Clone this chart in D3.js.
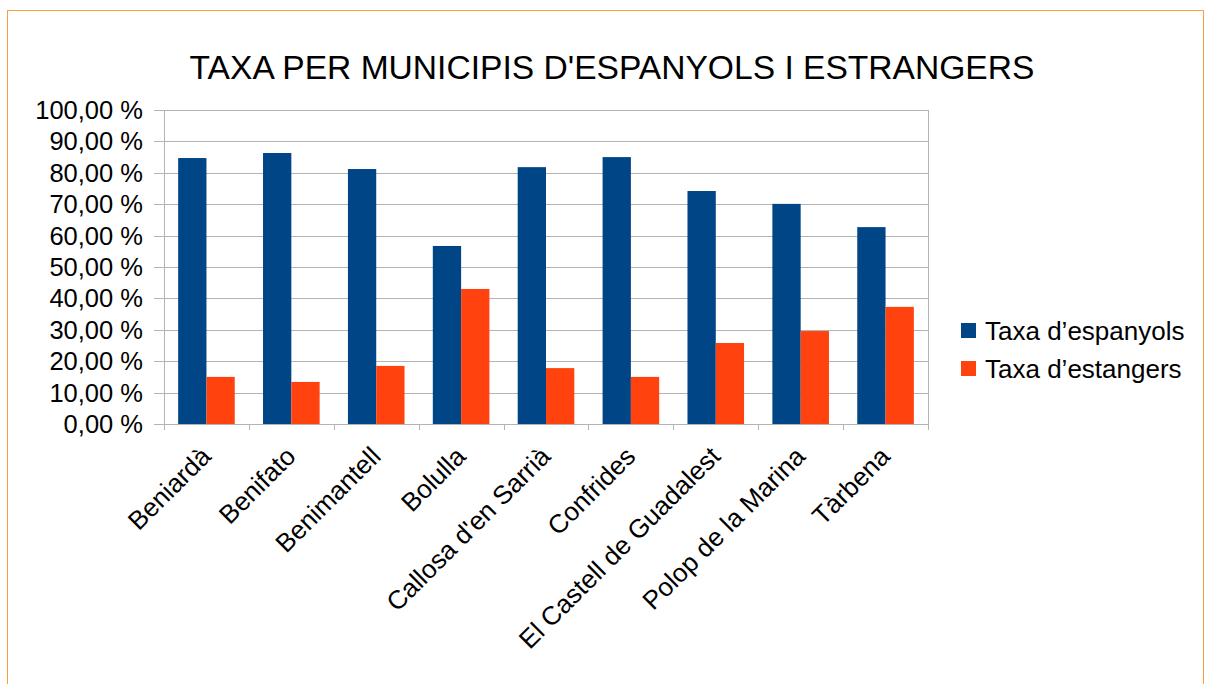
<!DOCTYPE html>
<html>
<head>
<meta charset="utf-8">
<script src="https://cdn.jsdelivr.net/npm/d3@7"></script>
<style>
  body { margin: 0; background: #fff; }
  svg text { font-family: "Liberation Sans", Arial, sans-serif; fill: #000; }
</style>
</head>
<body>
<div id="chart"></div>
<script>
const municipis = ["Beniardà", "Benifato", "Benimantell", "Bolulla", "Callosa d'en Sarrià",
  "Confrides", "El Castell de Guadalest", "Polop de la Marina", "Tàrbena"];
const espanyols = [84.7, 86.3, 81.2, 56.7, 81.8, 85.0, 74.2, 70.1, 62.7];
const estrangers = [15.0, 13.4, 18.5, 43.0, 17.8, 15.0, 25.8, 29.6, 37.3];
const seriesNames = ["Taxa d\u2019espanyols", "Taxa d\u2019estangers"];
const yTicks = [0, 10, 20, 30, 40, 50, 60, 70, 80, 90, 100];

const width = 1206, height = 684;
const margin = ({top: 110, right: 278, bottom: 260, left: 164});
const colors = ["#004586", "#ff420e"];

const svg = d3.select("#chart").append("svg").attr("width", width).attr("height", height);

// outer frame
svg.append("rect")
  .attr("x", 7.5).attr("y", 10.5).attr("width", 1196).attr("height", 700)
  .attr("fill", "none").attr("stroke", "#f7a040").attr("stroke-width", 1);

svg.append("text")
  .attr("x", 612).attr("y", 79)
  .attr("text-anchor", "middle")
  .style("font-size", "33.6px")
  .text("TAXA PER MUNICIPIS D'ESPANYOLS I ESTRANGERS");

const x = d3.scaleBand()
  .domain(municipis)
  .range([margin.left, width - margin.right]);

const x1 = d3.scaleBand()
  .domain([0, 1])
  .range([0, x.bandwidth()])
  .paddingOuter(0.5);

const y = d3.scaleLinear()
  .domain([0, 100])
  .range([height - margin.bottom, margin.top]);

// grid
svg.append("g")
  .selectAll("line").data(yTicks).join("line")
  .attr("x1", margin.left - 10).attr("x2", width - margin.right)
  .attr("y1", d => Math.round(y(d)) + 0.5).attr("y2", d => Math.round(y(d)) + 0.5)
  .attr("stroke", "#b3b3b3").attr("stroke-width", 1);

// y axis line and right wall line
svg.append("line")
  .attr("x1", margin.left + 0.5).attr("x2", margin.left + 0.5)
  .attr("y1", y(100)).attr("y2", y(0) + 6)
  .attr("stroke", "#b3b3b3");
svg.append("line")
  .attr("x1", width - margin.right + 0.5).attr("x2", width - margin.right + 0.5)
  .attr("y1", y(100)).attr("y2", y(0) + 6)
  .attr("stroke", "#b3b3b3");

// x ticks at category boundaries
svg.append("g")
  .selectAll("line").data(municipis.slice(1)).join("line")
  .attr("x1", d => Math.round(x(d)) + 0.5).attr("x2", d => Math.round(x(d)) + 0.5)
  .attr("y1", y(0)).attr("y2", y(0) + 6)
  .attr("stroke", "#b3b3b3");

// y tick labels
svg.append("g")
  .selectAll("text").data(yTicks).join("text")
  .attr("x", margin.left - 21).attr("y", d => y(d))
  .attr("dy", "0.35em")
  .attr("text-anchor", "end")
  .style("font-size", "25.5px")
  .text(d => d3.format(".2f")(d).replace(".", ",") + " %");

// bars
const rows = municipis.map((m, i) => ({m, vals: [espanyols[i], estrangers[i]]}));
const groups = svg.append("g")
  .selectAll("g").data(rows).join("g")
  .attr("transform", d => `translate(${x(d.m)},0)`);
groups.selectAll("rect")
  .data(d => d.vals.map((v, k) => ({v, k})))
  .join("rect")
  .attr("x", d => x1(d.k))
  .attr("width", x1.bandwidth())
  .attr("y", d => y(d.v))
  .attr("height", d => y(0) - y(d.v))
  .attr("fill", d => colors[d.k]);

// x labels
svg.append("g")
  .selectAll("text").data(municipis).join("text")
  .attr("transform", d => `translate(${x(d) + x.bandwidth() / 2 + 6},458) rotate(-45)`)
  .attr("text-anchor", "end")
  .style("font-size", "26px")
  .text(d => d);

// legend
const legend = svg.append("g")
  .selectAll("g").data(seriesNames).join("g")
  .attr("transform", (d, i) => `translate(961,${323 + i * 38})`);
legend.append("rect")
  .attr("width", 15).attr("height", 15)
  .attr("fill", (d, i) => colors[i]);
legend.append("text")
  .attr("x", 24).attr("y", 17)
  .style("font-size", "26px")
  .text(d => d);
</script>
</body>
</html>
